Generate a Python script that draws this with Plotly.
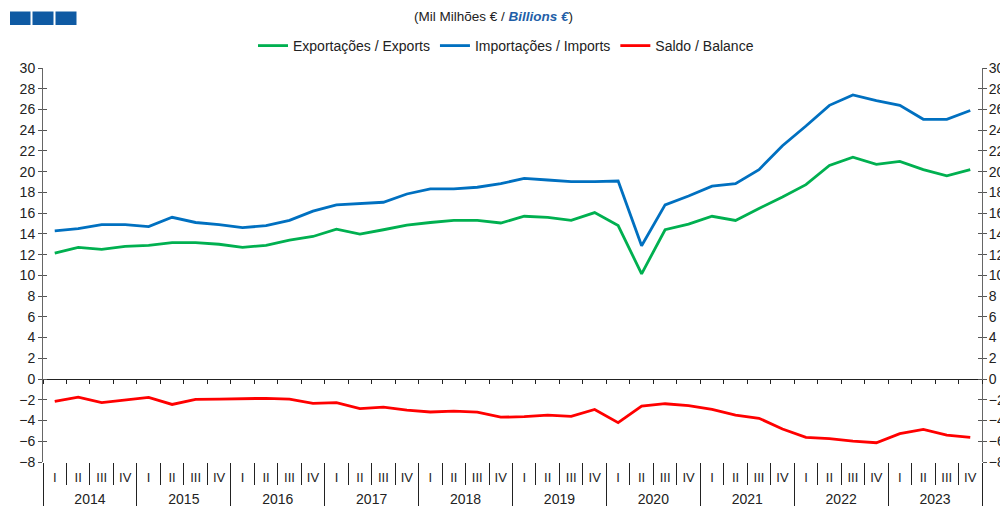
import plotly.graph_objects as go

years = ["2014", "2015", "2016", "2017", "2018", "2019", "2020", "2021", "2022", "2023"]
quarters = ["I", "II", "III", "IV"]

exports = [12.15, 12.7, 12.5, 12.8, 12.9, 13.15, 13.15, 13.0, 12.7, 12.9,
           13.4, 13.75, 14.45, 13.98, 14.4, 14.85, 15.1, 15.3, 15.3, 15.05,
           15.7, 15.6, 15.3, 16.05, 14.8, 10.15, 14.4, 14.95, 15.7, 15.3,
           16.45, 17.55, 18.75, 20.6, 21.4, 20.7, 21.0, 20.2, 19.6, 20.2]
imports = [14.3, 14.5, 14.9, 14.9, 14.7, 15.6, 15.1, 14.9, 14.6, 14.8,
           15.3, 16.2, 16.8, 16.9, 17.05, 17.85, 18.35, 18.35, 18.5, 18.85,
           19.35, 19.2, 19.05, 19.05, 19.1, 12.85, 16.8, 17.65, 18.6, 18.85,
           20.2, 22.5, 24.4, 26.4, 27.4, 26.85, 26.4, 25.05, 25.05, 25.9]
balance = [-2.16, -1.74, -2.28, -2.0, -1.77, -2.45, -1.96, -1.93, -1.86, -1.86,
           -1.93, -2.35, -2.28, -2.86, -2.7, -3.0, -3.18, -3.1, -3.18, -3.68,
           -3.63, -3.47, -3.6, -2.93, -4.2, -2.6, -2.38, -2.57, -2.93, -3.47,
           -3.78, -4.82, -5.63, -5.75, -5.98, -6.14, -5.27, -4.85, -5.4, -5.63]

series = [
    ("Exportações / Exports", exports, "#00b050"),
    ("Importações / Imports", imports, "#0070c0"),
    ("Saldo / Balance", balance, "#ff0000"),
]

nq = len(quarters)
x_inner = [q for _ in years for q in quarters]
n = len(x_inner)
xidx = list(range(n))

YMIN, YMAX = -8, 30
OFF = 8  # page body margin
W, H = 1000, 498
L, R, T, B = 35, 26, 60, 44
PW, PH = W - L - R, H - T - B

def px(xp):
    return (xp - OFF - L) / PW

def py(yp):
    return (H - B - (yp - OFF)) / PH

fig = go.Figure()
for name, vals, col in series:
    fig.add_trace(go.Scatter(x=xidx, y=vals, name=name, mode="lines",
                             line=dict(color=col, width=2.8)))

font = dict(family="Liberation Sans, Arial, sans-serif", size=14, color="#222")
boundaries = [k - 0.5 for k in range(n + 1)]
year_bounds = [k * nq - 0.5 for k in range(len(years) + 1)]
year_centers = [k * nq + (nq - 1) / 2 for k in range(len(years))]
yticks = list(range(YMIN, YMAX + 1, 2))
xr = [-0.5, n - 0.5]

common_x = dict(range=xr, showgrid=False, zeroline=False, automargin=False)
common_y = dict(range=[YMIN, YMAX], tickmode="array", tickvals=yticks, showgrid=False,
                zeroline=False, automargin=False, tickcolor="#555")

fig.update_layout(
    width=W, height=H,
    margin=dict(l=L, r=R, t=T, b=B, autoexpand=False),
    paper_bgcolor="white", plot_bgcolor="white",
    font=font,
    showlegend=True,
    legend=dict(orientation="h", x=px(506), xanchor="center", y=py(46), yanchor="middle",
                font=dict(size=14, color="#222"), bgcolor="rgba(0,0,0,0)"),
    # quarter labels
    xaxis=dict(**common_x, tickmode="array", tickvals=xidx, ticktext=x_inner, ticks="",
               showline=False, ticklabelstandoff=6, tickfont=dict(size=13, color="#222")),
    # zero axis with quarter ticks
    xaxis2=dict(**common_x, overlaying="x", anchor="free", position=(0 - YMIN) / (YMAX - YMIN),
                tickmode="array", tickvals=boundaries, ticks="outside", ticklen=4,
                tickcolor="#222", showticklabels=False, showline=True, linecolor="#222",
                linewidth=1),
    # quarter separators
    xaxis3=dict(**common_x, overlaying="x", anchor="y", side="bottom", tickmode="array",
                tickvals=boundaries, ticks="outside", ticklen=22, tickcolor="#222",
                showticklabels=False, showline=False),
    # year labels
    xaxis4=dict(**common_x, overlaying="x", anchor="y", side="bottom", tickmode="array",
                tickvals=year_centers, ticktext=years, ticks="", showline=False,
                ticklabelstandoff=27, tickfont=dict(size=14, color="#222")),
    # year dividers
    xaxis5=dict(**common_x, overlaying="x", anchor="y", side="bottom", tickmode="array",
                tickvals=year_bounds, ticks="outside", ticklen=48, tickcolor="#222",
                showticklabels=False, showline=False),
    yaxis=dict(**common_y, ticks="outside", ticklen=4, showline=True, linecolor="#666",
               linewidth=1, tickfont=dict(size=14, color="#222")),
    # right labels
    yaxis2=dict(**common_y, overlaying="y", side="right", anchor="x", ticks="",
                ticklabelstandoff=3, showline=True, linecolor="#666", linewidth=1,
                tickfont=dict(size=14, color="#222")),
    yaxis3=dict(**common_y, overlaying="y", side="left", anchor="x", ticks="inside", ticklen=4,
                showline=False, showticklabels=False),
    yaxis4=dict(**common_y, overlaying="y", side="right", anchor="x", ticks="inside", ticklen=4,
                showline=False, showticklabels=False),
    yaxis5=dict(**common_y, overlaying="y", side="right", anchor="x", ticks="outside", ticklen=4,
                showline=False, showticklabels=False),
)

# header annotation
fig.add_annotation(
    x=px(493), y=py(16), xref="paper", yref="paper", showarrow=False,
    text="(Mil Milhões € / <span style='color:#1f5fa8'><b><i>Billions €</i></b></span>)",
    font=dict(size=13.5, color="#222"), xanchor="center", yanchor="middle")

# logo blocks
for x0, x1 in [(10, 30.5), (32.5, 53.5), (55.5, 76.5)]:
    fig.add_shape(type="rect", xref="paper", yref="paper", x0=px(x0), x1=px(x1),
                  y0=py(25), y1=py(11.5), fillcolor="#0f5aa3", line=dict(width=0))

# dummy traces so overlay axes render
for xa in ["x2", "x3", "x4", "x5"]:
    fig.add_trace(go.Scatter(x=[None], y=[None], xaxis=xa, yaxis="y", showlegend=False,
                             hoverinfo="skip"))
for ya in ["y2", "y3", "y4", "y5"]:
    fig.add_trace(go.Scatter(x=[None], y=[None], xaxis="x", yaxis=ya, showlegend=False,
                             hoverinfo="skip"))

fig.write_html("out.html")
